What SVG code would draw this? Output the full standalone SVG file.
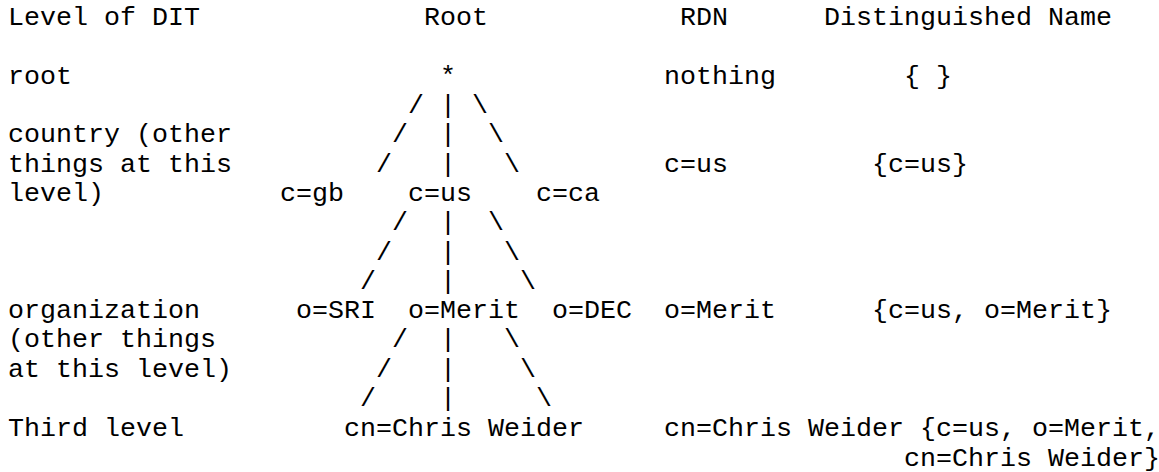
<svg xmlns="http://www.w3.org/2000/svg" width="1159" height="472" viewBox="0 0 1159 472" xml:space="preserve">
<style>
text{font-family:"Courier New","Liberation Mono",monospace;font-size:26.667px;fill:#000;white-space:pre}
</style>
<rect width="1159" height="472" fill="#fff"/>
<g id="header">
<text x="8" y="25">Level of DIT</text>
<text x="424" y="25">Root</text>
<text x="680" y="25">RDN</text>
<text x="824" y="25">Distinguished Name</text>
</g>
<g id="levels">
<text x="8" y="83.6">root</text>
<text x="8" y="142.2">country (other</text>
<text x="8" y="171.5">things at this</text>
<text x="8" y="200.9">level)</text>
<text x="8" y="318">organization</text>
<text x="8" y="347.4">(other things</text>
<text x="8" y="376.8">at this level)</text>
<text x="8" y="436">Third level</text>
</g>
<g id="node-root"><text x="440" y="83.6">*</text></g>
<g id="node-c-gb"><text x="280" y="200.9">c=gb</text></g>
<g id="node-c-us"><text x="408" y="200.9">c=us</text></g>
<g id="node-c-ca"><text x="536" y="200.9">c=ca</text></g>
<g id="node-o-sri"><text x="296" y="318">o=SRI</text></g>
<g id="node-o-merit"><text x="408" y="318">o=Merit</text></g>
<g id="node-o-dec"><text x="552" y="318">o=DEC</text></g>
<g id="node-cn"><text x="344" y="436">cn=Chris Weider</text></g>
<g id="connectors">
<text x="408" y="112.9">/</text><text x="440" y="112.9">|</text><text x="472" y="112.9">\</text>
<text x="392" y="142.2">/</text><text x="440" y="142.2">|</text><text x="488" y="142.2">\</text>
<text x="376" y="171.5">/</text><text x="440" y="171.5">|</text><text x="504" y="171.5">\</text>
<text x="392" y="230.2">/</text><text x="440" y="230.2">|</text><text x="488" y="230.2">\</text>
<text x="376" y="259.5">/</text><text x="440" y="259.5">|</text><text x="504" y="259.5">\</text>
<text x="360" y="288.8">/</text><text x="440" y="288.8">|</text><text x="520" y="288.8">\</text>
<text x="392" y="347.4">/</text><text x="440" y="347.4">|</text><text x="504" y="347.4">\</text>
<text x="376" y="376.8">/</text><text x="440" y="376.8">|</text><text x="520" y="376.8">\</text>
<text x="360" y="406.3">/</text><text x="440" y="406.3">|</text><text x="536" y="406.3">\</text>
</g>
<g id="rdn">
<text x="664" y="83.6">nothing</text>
<text x="664" y="171.5">c=us</text>
<text x="664" y="318">o=Merit</text>
<text x="664" y="436">cn=Chris Weider</text>
</g>
<g id="dn">
<text x="904" y="83.6">{ }</text>
<text x="872" y="171.5">{c=us}</text>
<text x="872" y="318">{c=us, o=Merit}</text>
<text x="920" y="436">{c=us, o=Merit,</text>
<text x="904" y="466">cn=Chris Weider}</text>
</g>
</svg>
